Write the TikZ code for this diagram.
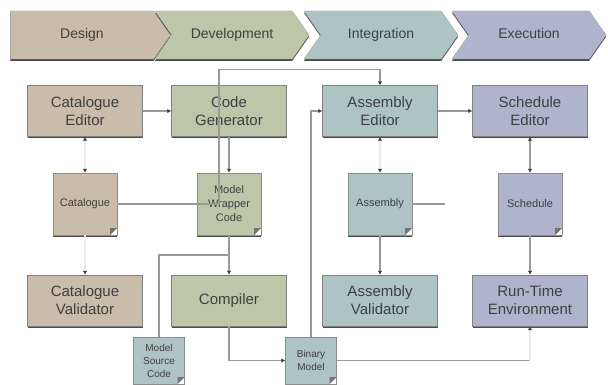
\documentclass[tikz,border=0pt]{standalone}
\usepackage{fontspec}
\setmainfont{Liberation Sans}
\usetikzlibrary{positioning,shapes.symbols,arrows.meta,shadows,calc}

\definecolor{designc}{HTML}{C9BCAA}
\definecolor{devc}{HTML}{BEC6A9}
\definecolor{intc}{HTML}{AEC4C4}
\definecolor{execc}{HTML}{AFB3CC}
\definecolor{inkc}{HTML}{3F3F3F}

\begin{document}
\begin{tikzpicture}[
        x=1pt,y=1pt,on grid,
        every node/.append style={text=inkc,align=center},
        shade below/.style={
          drop shadow={shadow xshift=0pt,shadow yshift=-1.8pt,fill=black!70,opacity=1}},
        fold/.style={path picture={
          \fill[white] ([xshift=-7pt]path picture bounding box.south east)
            -- (path picture bounding box.south east)
            -- ([yshift=7pt]path picture bounding box.south east) -- cycle;
          \fill[black!55] ([xshift=-7pt]path picture bounding box.south east)
            -- ([xshift=-7pt,yshift=7pt]path picture bounding box.south east)
            -- ([yshift=7pt]path picture bounding box.south east) -- cycle;}},
        phase/.style={
          signal,signal to=east,signal from=west,signal pointer angle=110,
          minimum width=154pt,minimum height=48pt,inner sep=0pt,draw=black!35,
          text height=10pt,text depth=3pt,
          font=\fontsize{14}{16}\selectfont,shade below},
        tool/.style={
          draw=black!50,minimum width=115pt,minimum height=51pt,inner sep=1pt,
          font=\fontsize{15}{18}\selectfont,shade below},
        artefact/.style={
          draw=black!45,minimum width=64pt,minimum height=62pt,inner sep=1pt,
          font=\fontsize{11}{14}\selectfont,fold,shade below},
        smalldoc/.style={
          artefact,fill=intc,minimum width=51pt,minimum height=47pt,
          font=\fontsize{10}{13}\selectfont},
        link/.style={draw=black!40,line width=1.2pt},
        ghost/.style={draw=black!8,line width=1.2pt},
        >={Latex[length=4pt,width=4.5pt,color=black!75]}]
      \useasboundingbox (0,0) rectangle (608,-385);

      % phases
      \node[phase, signal from=nowhere, minimum width=160pt, fill=designc] (design) at (82,-35) {Design};
      \node[phase, fill=devc, right=150pt of design] (develop) {Development};
      \node[phase, fill=intc, right=149pt of develop] (integrate) {Integration};
      \node[phase, fill=execc, right=148pt of integrate] (execute) {Execution};

      % tools and artefacts
      \node[tool, fill=designc] (catEd) at (85,-111) {Catalogue\\Editor};
      \node[tool, fill=devc, right=144pt of catEd] (gen) {Code\\Generator};
      \node[tool, fill=intc, right=151pt of gen] (asmEd) {Assembly\\Editor};
      \node[tool, fill=execc, right=150pt of asmEd] (schEd) {Schedule\\Editor};

      \node[artefact, fill=designc, below=93pt of catEd] (cat) {Catalogue};
      \node[artefact, fill=devc, below=93pt of gen] (wrap) {Model\\Wrapper\\Code};
      \node[artefact, fill=intc, below=93pt of asmEd] (asm) {Assembly};
      \node[artefact, fill=execc, below=93pt of schEd] (sch) {Schedule};

      \node[tool, fill=designc, below=96.5pt of cat] (catVal) {Catalogue\\Validator};
      \node[tool, fill=devc, below=96.5pt of wrap] (comp) {Compiler};
      \node[tool, fill=intc, below=96.5pt of asm] (asmVal) {Assembly\\Validator};
      \node[tool, fill=execc, below=96.5pt of sch] (runEnv) {Run-Time\\Environment};

      \node[smalldoc, below left=60pt and 70pt of comp] (src) {Model\\Source\\Code};
      \node[smalldoc, below right=60pt and 82pt of comp] (bin) {Binary\\Model};

      \coordinate (topbend) at ($(gen.north)+(-10,16)$);
      \coordinate (binturn) at (bin.east -| runEnv.south);
      \coordinate (asmstub) at ($(asm.east)+(33,0)$);

      % connectors
      \draw[link,->] (catEd) -- (gen);
      \draw[ghost,<->] (catEd) -- (cat);
      \draw[ghost,->] (cat) -- (catVal);
      \draw[link,->] (cat.east) -| (topbend) -| (asmEd.north);
      \draw[link,->] (gen) -- (wrap);
      \draw[link,->] (wrap) -- (comp);
      \draw[link] (src.north) |- ($(wrap.south)!.5!(comp.north)$);
      \draw[link,->] (comp.south) |- (bin.west);
      \draw[link,->] (bin.north) |- (asmEd.west);
      \draw[link] (bin.east) -- (binturn);
      \draw[ghost,->] (binturn) -- (runEnv.south);
      \draw[link,->] (asmEd) -- (schEd);
      \draw[ghost,<->] (asmEd) -- (asm);
      \draw[link,->] (asm) -- (asmVal);
      \draw[link] (asm.east) -- (asmstub);
      \draw[link,<->] (schEd) -- (sch);
      \draw[link,->] (sch) -- (runEnv);
    \end{tikzpicture}
\end{document}
